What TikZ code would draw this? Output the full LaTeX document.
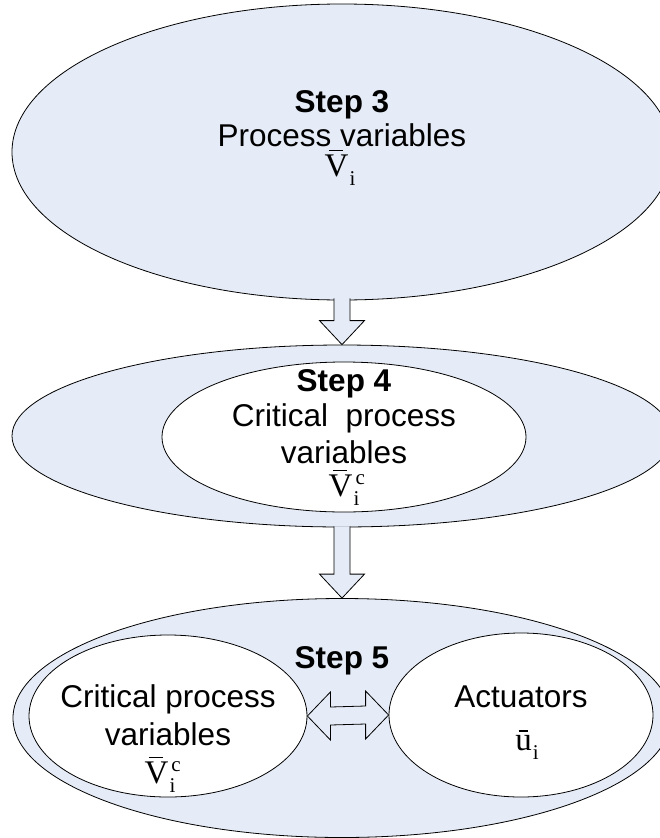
\documentclass[tikz,border=0pt]{standalone}
\usepackage{fontspec}
\setmainfont{Liberation Sans}
\newfontfamily\tms{Liberation Serif}
\usetikzlibrary{shapes.geometric,calc}
\definecolor{pale}{RGB}{230,236,247}
% serif letter with a short bar above it
\newcommand\barred[1]{\setbox0\hbox{\tms\fontsize{33}{33}\selectfont #1}%
  \rlap{\hspace{0.2\wd0}\raisebox{\dimexpr\ht0+3pt\relax}{\rule{0.55\wd0}{1.6pt}}}\box0}
\newcommand\smallserif[1]{\hbox{\tms\fontsize{21}{21}\selectfont #1}}
% barred letter with an upper and a lower index
\newcommand\symb[3]{\barred{#1}\kern1pt\rlap{\hspace{2pt}\raisebox{12pt}{\smallserif{#2}}}\raisebox{-9pt}{\smallserif{#3}}}
\tikzset{
  stage/.style={ellipse, draw=black, line width=0.8pt, fill=pale, inner sep=0pt},
  inset/.style={ellipse, draw=black, line width=0.8pt, fill=white, inner sep=0pt},
  blockarrow/.style={draw=black, line width=0.8pt, fill=pale, line join=miter},
  lbl/.style={font=\fontsize{31.5}{36}\selectfont, inner sep=0pt, anchor=base},
  boldlbl/.style={lbl, font=\fontsize{31.5}{36}\selectfont\bfseries},
}
\begin{document}
\begin{tikzpicture}[x=1pt,y=-1pt]
\useasboundingbox (0,0) rectangle (660,838);
\clip (0,0) rectangle (660,838);

% Step 3
\node[stage, minimum width=660pt, minimum height=296pt] (s3) at (342,152) {};
\node[boldlbl] (s3t) at (342,112) {Step 3};
\node[lbl] (s3a) at (342,146) {Process variables};
\node[lbl] (s3v) at (340,176) {\symb{V}{}{i}};

% Step 4
\node[stage, minimum width=660pt, minimum height=182pt] (s4) at (342,436) {};
\node[inset, minimum width=364pt, minimum height=150pt] (s4in) at (344,437) {};
\node[boldlbl] (s4t) at (344,391) {Step 4};
\node[lbl] (s4a) at (344,426) {Critical\ \ process};
\node[lbl] (s4b) at (344,463) {variables};
\node[lbl] (s4v) at (344,496) {\symb{V}{c}{i}};

% Step 5
\node[stage, minimum width=658pt, minimum height=239pt] (s5) at (342,718) {};
\node[inset, minimum width=278pt, minimum height=162pt] (cpv) at (168,716) {};
\node[inset, minimum width=264pt, minimum height=164pt] (act) at (521,715) {};
\node[boldlbl] (s5t) at (342,668) {Step 5};
\node[lbl] (cpva) at (168,707) {Critical process};
\node[lbl] (cpvb) at (168,745) {variables};
\node[lbl] (cpvv) at (160,783) {\symb{V}{c}{i}};
\node[lbl] (acta) at (521,707) {Actuators};
\node[lbl] (actu) at (527,750) {\symb{u}{}{i}};

% block arrows between the stages
\draw[blockarrow] ($(s3.south)+(-8,-2)$) -- ($(s4.north)+(-8,-24)$) -- ($(s4.north)+(-22.5,-24)$)
  -- (s4.north) -- ($(s4.north)+(22.5,-24)$) -- ($(s4.north)+(8,-24)$) -- ($(s3.south)+(8,-2)$);
\draw[blockarrow] ($(s4.south)+(-8,-1)$) -- ($(s5.north)+(-8,-24)$) -- ($(s5.north)+(-22.5,-24)$)
  -- (s5.north) -- ($(s5.north)+(22.5,-24)$) -- ($(s5.north)+(8,-24)$) -- ($(s4.south)+(8,-1)$);

% two-way arrow between the inner ellipses
\draw[blockarrow] (cpv.east) -- ($(cpv.east)+(23,-24)$) -- ($(cpv.east)+(23,-9)$)
  -- ($(act.west)+(-23,-9)$) -- ($(act.west)+(-23,-24)$) -- (act.west)
  -- ($(act.west)+(-23,24)$) -- ($(act.west)+(-23,9)$) -- ($(cpv.east)+(23,9)$)
  -- ($(cpv.east)+(23,24)$) -- cycle;
\end{tikzpicture}
\end{document}
